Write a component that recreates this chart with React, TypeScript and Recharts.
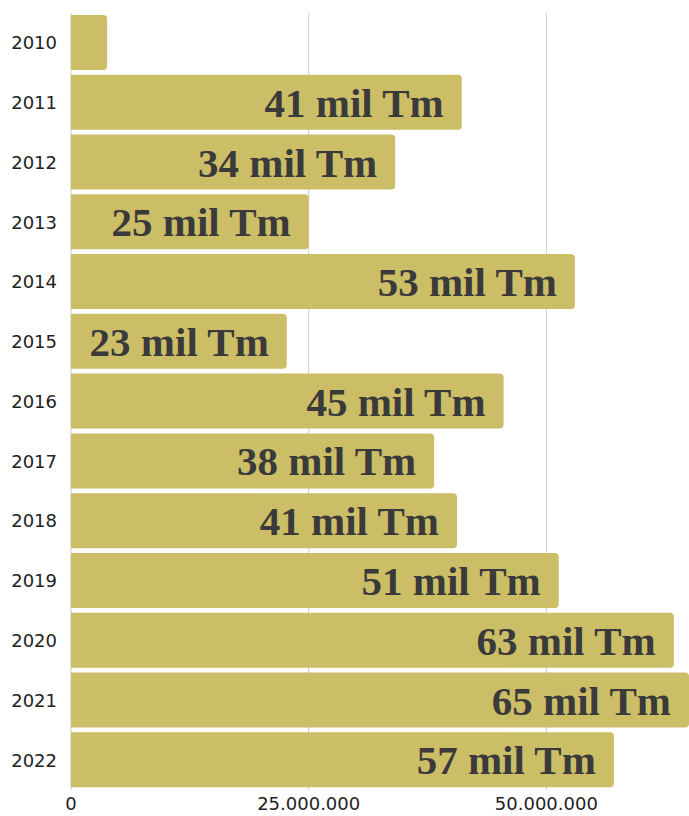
import { BarChart, Bar, XAxis, YAxis, CartesianGrid, LabelList } from "recharts";

const years = ["2010", "2011", "2012", "2013", "2014", "2015", "2016", "2017", "2018", "2019", "2020", "2021", "2022"];
const tonnes = [3800000, 41100000, 34100000, 25000000, 53000000, 22700000, 45500000, 38200000, 40600000, 51300000, 63400000, 65000000, 57100000];
const barLabels = ["", "41 mil Tm", "34 mil Tm", "25 mil Tm", "53 mil Tm", "23 mil Tm", "45 mil Tm", "38 mil Tm", "41 mil Tm", "51 mil Tm", "63 mil Tm", "65 mil Tm", "57 mil Tm"];
const xTicks = [0, 25000000, 50000000];

const data = years.map((year, i) => ({ year, value: tonnes[i], label: barLabels[i] }));

const fmtTick = (v: number) => v.toLocaleString("de-DE");

// grid only at the labelled ticks, no line at the domain end
const gridX = ({ xAxis }: any) => {
  const scale = xAxis && xAxis.scale;
  if (typeof scale === "function") return xTicks.map((t) => scale(t));
  if (scale && typeof scale.map === "function") return xTicks.map((t) => scale.map(t));
  return [];
};

export default function App() {
  return (
    <div style={{ position: "absolute", left: 0, top: 0 }}>
      <BarChart
        width={689}
        height={816}
        data={data}
        layout="vertical"
        margin={{ top: 13, right: 0, bottom: 0, left: 0 }}
        barSize={55}
      >
        <CartesianGrid horizontal={false} stroke="#cccccc" verticalCoordinatesGenerator={gridX} />
        <XAxis
          type="number"
          domain={[0, 65000000]}
          ticks={xTicks}
          tickFormatter={fmtTick}
          axisLine={false}
          tickLine={false}
          tickSize={0}
          tickMargin={7}
          height={26}
          tick={{ fill: "#222", fontSize: 18, fontFamily: "DejaVu Sans" }}
        />
        <YAxis
          type="category"
          dataKey="year"
          width={71}
          axisLine={false}
          tickLine={false}
          tickSize={0}
          tickMargin={14}
          tick={{ fill: "#222", fontSize: 18, fontFamily: "DejaVu Sans" }}
        />
        <Bar dataKey="value" fill="#ccbe67" radius={[0, 4, 4, 0]} isAnimationActive={false}>
          <LabelList
            dataKey="label"
            position="insideRight"
            offset={18}
            fill="#3a3a3a"
            style={{ fontFamily: "Liberation Serif", fontWeight: "bold", fontSize: 41 }}
          />
        </Bar>
      </BarChart>
    </div>
  );
}
